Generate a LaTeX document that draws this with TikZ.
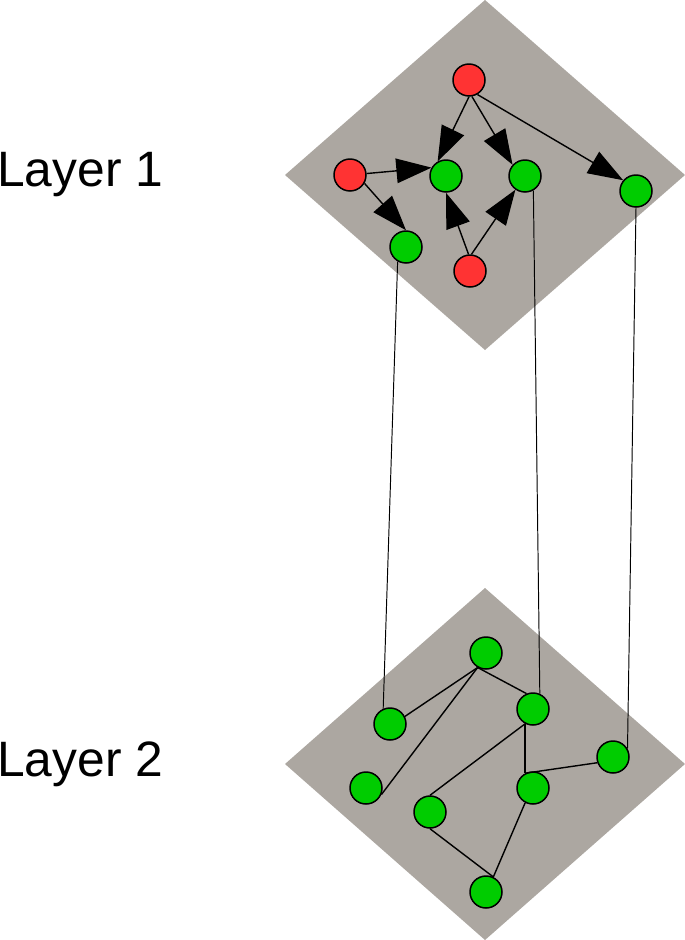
\documentclass[tikz,border=0pt]{standalone}
\usepackage{fontspec}
\setmainfont{Liberation Sans}
\usepackage{tikz}
\usetikzlibrary{arrows.meta}

\definecolor{layergrey}{RGB}{172,167,161}
\definecolor{nodered}{RGB}{255,51,51}
\definecolor{nodegreen}{RGB}{0,204,0}

\tikzset{
  vert/.style={circle, draw=black, line width=0.85pt, minimum size=0.64cm, inner sep=0pt},
  src/.style={vert, fill=nodered},
  dst/.style={vert, fill=nodegreen},
  layername/.style={font=\fontsize{28.3}{33}\selectfont, inner sep=0pt, anchor=base west},
  link/.style={line width=0.8pt},
  thinlink/.style={line width=0.55pt},
  dep/.style={link, -{Triangle[length=20pt, width=14pt]}}
}

\begin{document}
\begin{tikzpicture}[x=0.02cm, y=-0.02cm]
    \useasboundingbox (0,0) rectangle (685,940);

    % layers
    \fill[layergrey] (485,0) -- (685,175) -- (485,350) -- (285,175) -- cycle;
    \fill[layergrey] (485,588) -- (685,764) -- (485,940) -- (285,764) -- cycle;

    \node[layername] (lay1) at (-3,186) {Layer 1};
    \node[layername] (lay2) at (-3,776) {Layer 2};

    % layer 1
    \node[src] (r1) at (469,80) {};
    \node[src] (r2) at (350,175) {};
    \node[src] (r3) at (470,271) {};
    \node[dst] (g1) at (446,176) {};
    \node[dst] (g2) at (525,176) {};
    \node[dst] (g3) at (636,191) {};
    \node[dst] (g4) at (406,247) {};

    \draw[dep] (r1.270) -- (g1.120);
    \draw[dep] (r1.280) -- (g2.138);
    \draw[dep] (r1.300) -- (g3.140);
    \draw[dep] (r2.5) -- (g1.150);
    \draw[dep] (r2.330) -- (g4.90);
    \draw[dep] (r3.95) -- (g1.270);
    \draw[dep] (r3.85) -- (g2.235);

    % layer 2
    \node[dst] (b1) at (486,653) {};
    \node[dst] (b2) at (533,709) {};
    \node[dst] (b3) at (390,724) {};
    \node[dst] (b4) at (613,757) {};
    \node[dst] (b5) at (366,788) {};
    \node[dst] (b6) at (533,788) {};
    \node[dst] (b7) at (430,812) {};
    \node[dst] (b8) at (486,892) {};

    \draw[link] (b1.240) -- (b3.27);
    \draw[link] (b1.240) -- (b5.337);
    \draw[link] (b1.240) -- (b2.113);
    \draw[link] (b2.242) -- (b7.90);
    \draw[link] (b2.242) -- (b6.118);
    \draw[link] (b6.118) -- (b4.200);
    \draw[link] (b6.242) -- (b8.64);
    \draw[link] (b7.270) -- (b8.64);

    % between layers
    \draw[thinlink] (g4.240) -- (b3.114);
    \draw[thinlink] (g2.300) -- (b2.66);
    \draw[thinlink] (g3.270) -- (b4.30);
\end{tikzpicture}
\end{document}
